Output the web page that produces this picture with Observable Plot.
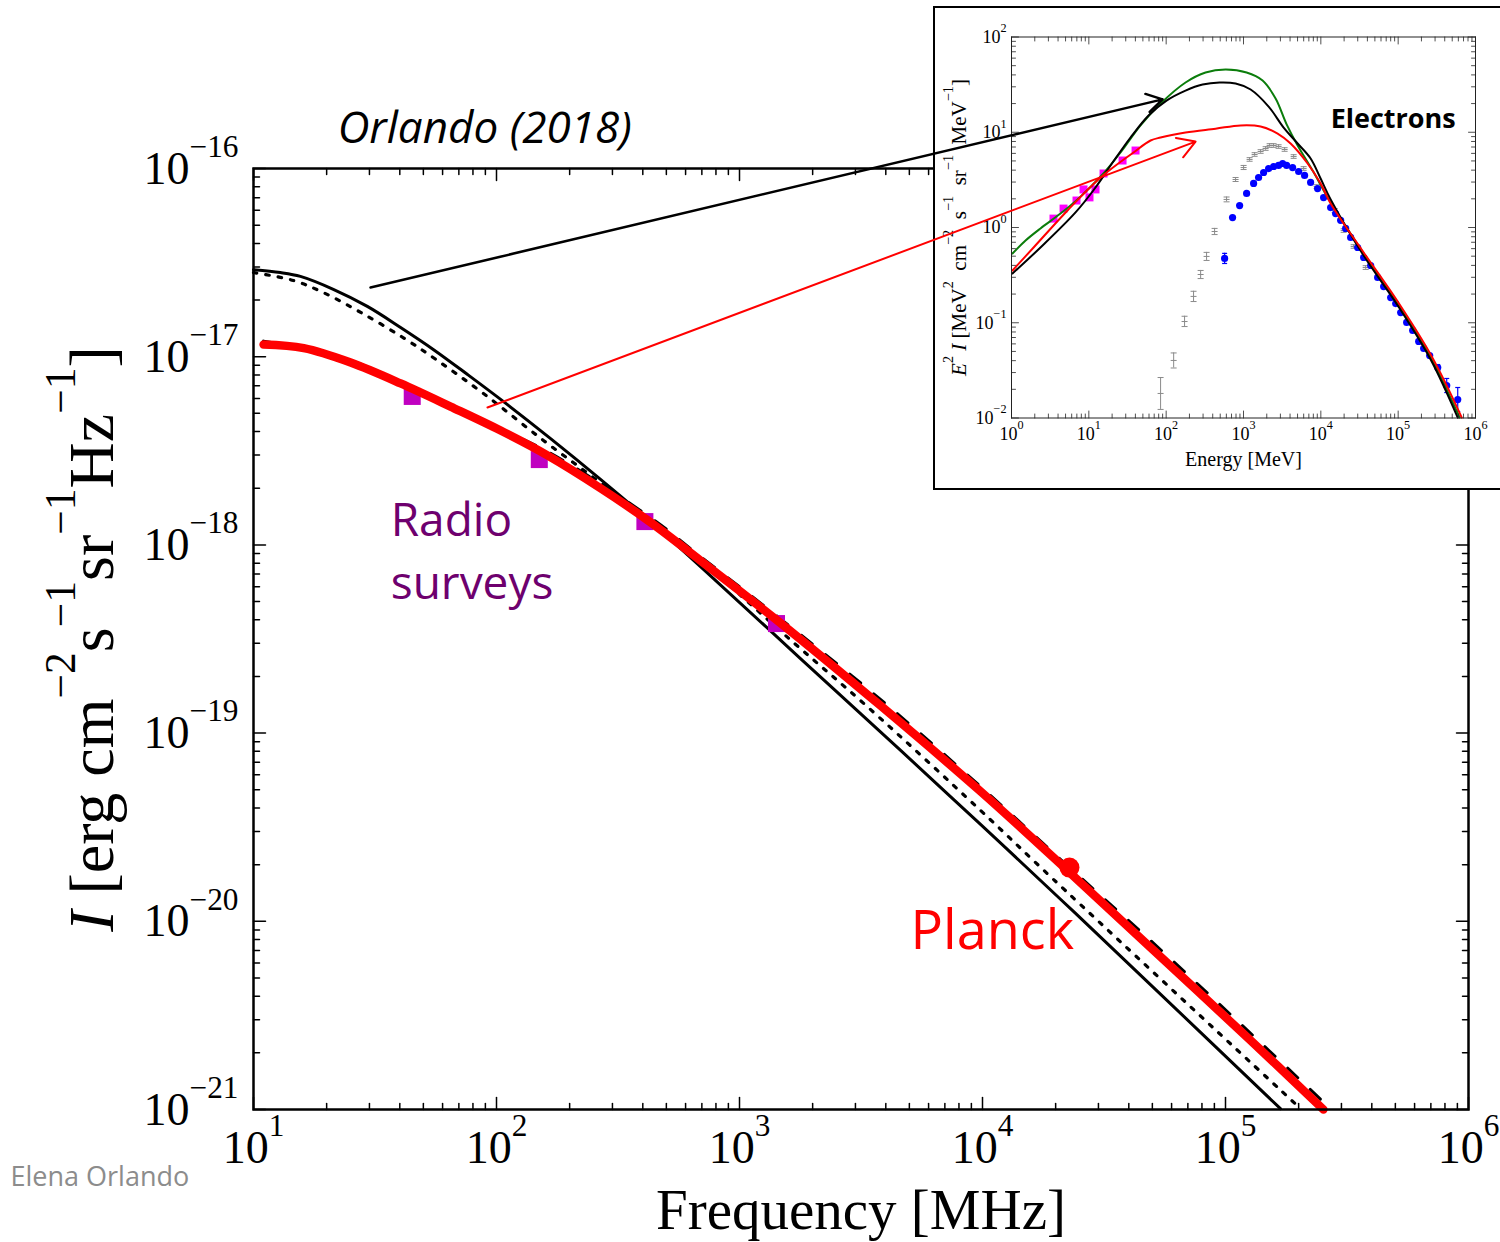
<!DOCTYPE html>
<html><head><meta charset="utf-8">
<script src="https://cdn.jsdelivr.net/npm/d3@7"></script>
<script src="https://cdn.jsdelivr.net/npm/@observablehq/plot@0.6"></script>
<style>
html,body{margin:0;padding:0;background:#fff;overflow:hidden;}
#wrap{position:relative;width:1500px;height:1242px;overflow:hidden;background:#fff;}
#wrap svg{position:absolute;left:0;top:0;}
#inset{position:absolute;left:933px;top:6px;width:570px;height:480px;border:2px solid #000;background:#fff;}
</style></head><body><div id="wrap"></div>
<script>
// ---------- Main panel: synchrotron intensity vs frequency ----------
const solidFreq = [10, 12.9, 15.6, 21.3, 29.4, 40.3, 55.1, 76.0, 104, 167, 268, 430, 691, 1782, 4603, 9817, 20940, 49100, 168300];
const solidI = [2.90e-17, 2.80e-17, 2.67e-17, 2.28e-17, 1.85e-17, 1.43e-17, 1.09e-17, 8.04e-18, 5.93e-18, 3.67e-18, 2.23e-18, 1.33e-18, 7.67e-19, 2.49e-19, 8.09e-20, 3.27e-20, 1.31e-20, 4.61e-21, 1.01e-21];
const dottedFreq = [10, 14.6, 19.4, 27.6, 41.4, 57.1, 88.4, 156, 260, 430, 691, 1667, 3362, 9817, 19590, 203700];
const dottedI = [2.80e-17, 2.54e-17, 2.19e-17, 1.72e-17, 1.26e-17, 9.55e-18, 6.37e-18, 3.59e-18, 2.20e-18, 1.32e-18, 8.26e-19, 3.03e-19, 1.38e-19, 3.88e-20, 1.67e-20, 1.01e-21];
const dashedFreq = [11.0, 25.1, 64.7, 162, 443, 691, 1433, 3802, 9817, 22800, 49100, 126800, 270400];
const dashedI = [1.21e-17, 9.55e-18, 5.37e-18, 3.13e-18, 1.36e-18, 8.67e-19, 4.17e-19, 1.51e-19, 5.20e-20, 1.93e-20, 7.91e-21, 2.54e-21, 1.01e-21];
const redFreq = [11.0, 16.1, 25.1, 40.3, 64.7, 104, 162, 268, 430, 691, 1433, 3802, 9817, 22800, 49100, 126800, 252900];
const redI = [1.16e-17, 1.11e-17, 9.31e-18, 7.21e-18, 5.43e-18, 4.05e-18, 2.99e-18, 2.00e-18, 1.32e-18, 8.26e-19, 3.96e-19, 1.40e-19, 4.90e-20, 1.82e-20, 7.26e-21, 2.33e-21, 1.0e-21];
const radioFreq = [45, 150, 408, 1420];
const radioI = [6.15e-18, 2.84e-18, 1.33e-18, 3.82e-19];
const planckFreq = [22800];
const planckI = [1.93e-20];
const mainMajorX = [1e1, 1e2, 1e3, 1e4, 1e5, 1e6];
const mainMajorY = [1e-21, 1e-20, 1e-19, 1e-18, 1e-17, 1e-16];

// ---------- Inset: electron spectra E^2 I vs energy ----------
const greenE = [1.03, 1.52, 2.37, 4.30, 7.81, 14.2, 25.7, 46.6, 84.6, 178, 323, 587, 1097, 1766, 2600, 3611, 5012, 7834, 13390, 35800, 98600, 263000, 625000];
const greenV = [0.533, 0.730, 0.977, 1.40, 2.11, 3.43, 6.13, 11.8, 20.0, 33.3, 42.4, 45.6, 42.4, 34.9, 22.6, 12.1, 7.26, 3.96, 1.83, 0.533, 0.159, 0.0432, 0.0101];
const blackE = [1.03, 2.37, 6.73, 12.2, 20.3, 34.6, 59.2, 101, 178, 296, 491, 791, 1236, 2113, 3305, 5012, 7379, 9931, 13390, 35800, 98600, 263000, 589000];
const blackV = [0.329, 0.617, 1.44, 2.63, 4.81, 8.81, 15.0, 21.5, 27.4, 31.7, 33.3, 32.5, 28.1, 18.6, 11.2, 7.62, 5.30, 3.27, 1.97, 0.508, 0.152, 0.0411, 0.0101];
const redE = [1.03, 1.93, 5.30, 14.2, 37.8, 62.8, 84.6, 178, 436, 918, 1665, 2763, 4066, 6745, 9931, 13390, 35800, 98600, 263000, 664000];
const redV = [0.354, 0.617, 1.51, 3.35, 6.13, 8.19, 8.81, 9.93, 10.9, 11.8, 11.5, 9.70, 7.62, 4.70, 2.90, 1.79, 0.547, 0.167, 0.0464, 0.0101];
const magentaE = [3.49, 4.71, 6.93, 8.54, 10.2, 12.2, 15.5, 27.3, 40.2];
const magentaV = [1.24, 1.58, 1.92, 2.51, 2.07, 2.51, 3.69, 5.05, 6.43];
const grayE = [84.7, 125, 173, 226, 279, 333, 423, 604, 790, 1003, 1199, 1393, 1665, 1932, 2177, 2451, 2844, 3404, 4450, 5995, 8832, 15100, 19730, 26570, 38000];
const grayV = [0.0181, 0.0402, 0.103, 0.189, 0.321, 0.497, 0.908, 1.97, 3.19, 4.26, 5.18, 5.84, 6.28, 6.75, 7.26, 7.26, 7.08, 6.59, 5.56, 4.16, 2.69, 1.51, 0.931, 0.632, 0.380];
const grayLo = [0.0123, 0.0335, 0.0912, 0.167, 0.291, 0.451, 0.843, 1.86, 3.04, 4.06, 4.96, 5.59, 6.01, 6.46, 6.95, 6.95, 6.78, 6.31, 5.32, 3.98, 2.57, 1.44, 0.89, 0.605, 0.363];
const grayHi = [0.0266, 0.0482, 0.117, 0.214, 0.354, 0.548, 0.978, 2.09, 3.35, 4.48, 5.41, 6.10, 6.56, 7.05, 7.58, 7.58, 7.39, 6.88, 5.81, 4.35, 2.81, 1.58, 0.97, 0.66, 0.397];
const blueE = [570, 722, 891, 1097, 1351, 1567, 1820, 2113, 2451, 2844, 3205, 3611, 4316, 5164, 6166, 7379, 9078, 10860, 13390, 15530, 18030, 20940, 24300, 29920, 35800, 44100, 54300, 64900, 80000, 92900, 107800, 128800, 154100, 184300, 213800, 255600, 324600, 424500, 589000];
const blueV = [0.473, 1.27, 1.70, 2.28, 2.90, 3.35, 3.78, 4.16, 4.37, 4.48, 4.70, 4.48, 4.26, 3.87, 3.52, 2.97, 2.56, 2.06, 1.62, 1.40, 1.19, 0.977, 0.786, 0.617, 0.484, 0.399, 0.299, 0.240, 0.184, 0.159, 0.128, 0.1007, 0.0830, 0.0636, 0.0537, 0.0453, 0.0339, 0.0219, 0.0156];
const blueErrE = [570, 324600, 424500, 589000];
const blueErrLo = [0.419, 0.0316, 0.0185, 0.0117];
const blueErrHi = [0.535, 0.0364, 0.0260, 0.0209];
const insetMajorX = [1e0, 1e1, 1e2, 1e3, 1e4, 1e5, 1e6];
const insetMajorY = [1e-2, 1e-1, 1e0, 1e1, 1e2];

// ---------- helpers ----------
const SERIF = "Liberation Serif, Times New Roman, serif";
const SANS = "Open Sans, Noto Sans, sans-serif";
const zip = (xs, ys) => xs.map((x, i) => ({x, y: ys[i]}));
const minorsOf = (majors) => majors.slice(0, -1).flatMap(m => [2,3,4,5,6,7,8,9].map(k => k * m));
const powLabel = d => "10^{" + String(Math.round(Math.log10(d))).replace("-", "\u2212") + "}";
const tickShape = {draw(ctx, l) { ctx.moveTo(0, 0); ctx.lineTo(0, -l); }};
const capSymbol = {draw(ctx, size) { const w = Math.sqrt(size / Math.PI); ctx.moveTo(-w, 0); ctx.lineTo(w, 0); }};

function frameTicks(xMaj, yMaj, o) {
  const xMin = minorsOf(xMaj), yMin = minorsOf(yMaj), marks = [];
  for (const [fa, rot] of [["bottom", 0], ["top", 180]]) {
    marks.push(Plot.vector(xMaj, {x: d => d, frameAnchor: fa, rotate: rot, length: o.maj, anchor: "start", shape: tickShape, stroke: o.stroke, strokeWidth: o.sw}));
    marks.push(Plot.vector(xMin, {x: d => d, frameAnchor: fa, rotate: rot, length: o.min, anchor: "start", shape: tickShape, stroke: o.stroke, strokeWidth: o.sw}));
  }
  for (const [fa, rot] of [["left", 90], ["right", -90]]) {
    marks.push(Plot.vector(yMaj, {y: d => d, frameAnchor: fa, rotate: rot, length: o.maj, anchor: "start", shape: tickShape, stroke: o.stroke, strokeWidth: o.sw}));
    marks.push(Plot.vector(yMin, {y: d => d, frameAnchor: fa, rotate: rot, length: o.min, anchor: "start", shape: tickShape, stroke: o.stroke, strokeWidth: o.sw}));
  }
  return marks;
}

// convert "^{..}" to superscripts and "*..*" to italics
function richText(root) {
  const ns = "http://www.w3.org/2000/svg";
  root.querySelectorAll("text").forEach(t => {
    const s = t.textContent;
    if (t.querySelector("tspan") || !/(\^\{|\*)/.test(s)) return;
    const fs = parseFloat(getComputedStyle(t).fontSize);
    const parts = s.split(/(\^\{[^}]*\}|\*[^*]+\*)/).filter(p => p);
    t.textContent = "";
    let up = false;
    for (const p of parts) {
      const ts = document.createElementNS(ns, "tspan");
      if (p.startsWith("^{")) {
        ts.textContent = p.slice(2, -1);
        ts.setAttribute("font-size", (fs * 0.68).toFixed(1));
        if (!up) ts.setAttribute("dy", (-fs * 0.58).toFixed(1));
        up = true;
      } else {
        if (p.startsWith("*")) { ts.textContent = p.slice(1, -1); ts.setAttribute("font-style", "italic"); }
        else ts.textContent = p;
        if (up) { ts.setAttribute("dy", (fs * 0.58).toFixed(1)); up = false; }
      }
      t.appendChild(ts);
    }
  });
}

// ---------- main plot ----------
const mainOpts = {
  width: 1500, height: 1242,
  marginLeft: 253, marginRight: 32, marginTop: 168, marginBottom: 133,
  x: {type: "log", domain: [10, 1e6], axis: null},
  y: {type: "log", domain: [1e-21, 1e-16], axis: null},
  style: {background: "transparent", overflow: "visible"}
};

const main = Plot.plot({
  ...mainOpts,
  marks: [
    Plot.line(zip(solidFreq, solidI), {x: "x", y: "y", stroke: "#000", strokeWidth: 3, curve: "catmull-rom"}),
    Plot.line(zip(dottedFreq, dottedI), {x: "x", y: "y", stroke: "#000", strokeWidth: 3.2, strokeDasharray: "3.5,9", curve: "catmull-rom"}),
    Plot.line(zip(dashedFreq, dashedI), {x: "x", y: "y", stroke: "#000", strokeWidth: 3, strokeDasharray: "14,17", curve: "catmull-rom"}),
    Plot.dot(zip(radioFreq, radioI), {x: "x", y: "y", symbol: "square", r: 9.6, fill: "#c000c0"}),
    Plot.line(zip(redFreq, redI), {x: "x", y: "y", stroke: "#ff0000", strokeWidth: 8.5, curve: "catmull-rom"}),
    Plot.dot(zip(planckFreq, planckI), {x: "x", y: "y", r: 10, fill: "#ff0000"}),
    Plot.frame({stroke: "#000", strokeWidth: 2.5}),
    ...frameTicks(mainMajorX, mainMajorY, {maj: 12, min: 6, sw: 1.5, stroke: "#000"}),
    Plot.text(mainMajorX, {x: d => d, frameAnchor: "bottom", dy: 53, lineAnchor: "bottom", textAnchor: "middle", text: powLabel, fontSize: 46, fontFamily: SERIF, fill: "#000"}),
    Plot.text(mainMajorY, {y: d => d, frameAnchor: "left", dx: -15, dy: 15, lineAnchor: "bottom", textAnchor: "end", text: powLabel, fontSize: 46, fontFamily: SERIF, fill: "#000"}),
    Plot.text(["Frequency [MHz]"], {text: d => d, frameAnchor: "bottom", dy: 119, lineAnchor: "bottom", textAnchor: "middle", fontSize: 57, fontFamily: SERIF, fill: "#000"}),
    Plot.text(["*I* [erg cm^{\u22122}s^{\u22121}sr^{\u22121}Hz^{\u22121}]"], {text: d => d, frameAnchor: "left", dx: -141, rotate: -90, lineAnchor: "bottom", textAnchor: "middle", fontSize: 64, fontFamily: SERIF, fill: "#000"}),
    Plot.text([{x: 22.2, y: 1.36e-16}], {x: "x", y: "y", text: () => "Orlando (2018)", textAnchor: "start", lineAnchor: "bottom", fontSize: 44, fontStyle: "italic", fontFamily: SANS, fill: "#000"}),
    Plot.text([{x: 36.7, y: 1.12e-18, t: "Radio"}, {x: 36.7, y: 5.19e-19, t: "surveys"}], {x: "x", y: "y", text: "t", textAnchor: "start", lineAnchor: "bottom", fontSize: 46, fontFamily: SANS, fill: "#6e006e"}),
    Plot.text([{x: 5058, y: 7.16e-21}], {x: "x", y: "y", text: () => "Planck", textAnchor: "start", lineAnchor: "bottom", fontSize: 54, fontFamily: SANS, fill: "#ff0000"}),
    Plot.text([{x: 1.0, y: 3.94e-22}], {x: "x", y: "y", text: () => "Elena Orlando", textAnchor: "start", lineAnchor: "bottom", fontSize: 27, fontFamily: SANS, fill: "#8c8c8c"})
  ]
});

// ---------- inset plot ----------
const gray = grayE.map((e, i) => ({x: e, y: grayV[i], lo: grayLo[i], hi: grayHi[i]}));
const blueErr = blueErrE.map((e, i) => ({x: e, lo: blueErrLo[i], hi: blueErrHi[i]}));
const inset = Plot.plot({
  width: 570, height: 480,
  marginLeft: 76, marginRight: 30, marginTop: 28.5, marginBottom: 70.5,
  x: {type: "log", domain: [1, 1e6], axis: null},
  y: {type: "log", domain: [1e-2, 1e2], axis: null},
  style: {background: "#fff", overflow: "visible"},
  marks: [
    Plot.ruleX(gray, {x: "x", y1: "lo", y2: "hi", stroke: "#8a8a8a", strokeWidth: 1}),
    Plot.dot(gray, {x: "x", y: "lo", symbol: capSymbol, r: 3, fill: "none", stroke: "#8a8a8a", strokeWidth: 1}),
    Plot.dot(gray, {x: "x", y: "hi", symbol: capSymbol, r: 3, fill: "none", stroke: "#8a8a8a", strokeWidth: 1}),
    Plot.dot(gray, {x: "x", y: "y", symbol: capSymbol, r: 3, fill: "none", stroke: "#8a8a8a", strokeWidth: 1}),
    Plot.ruleX(blueErr, {x: "x", y1: "lo", y2: "hi", stroke: "#0000ff", strokeWidth: 1.2}),
    Plot.dot(blueErr, {x: "x", y: "lo", symbol: capSymbol, r: 2.5, fill: "none", stroke: "#0000ff", strokeWidth: 1.2}),
    Plot.dot(blueErr, {x: "x", y: "hi", symbol: capSymbol, r: 2.5, fill: "none", stroke: "#0000ff", strokeWidth: 1.2}),
    Plot.dot(zip(blueE, blueV), {x: "x", y: "y", r: 3.6, fill: "#0000ff"}),
    Plot.dot(zip(magentaE, magentaV), {x: "x", y: "y", symbol: "square", r: 4.5, fill: "#ff00ff"}),
    Plot.line(zip(greenE, greenV), {x: "x", y: "y", stroke: "#0b7d0b", strokeWidth: 2, curve: "catmull-rom"}),
    Plot.line(zip(blackE, blackV), {x: "x", y: "y", stroke: "#000", strokeWidth: 2, curve: "catmull-rom"}),
    Plot.line(zip(redE, redV), {x: "x", y: "y", stroke: "#ff0000", strokeWidth: 2, curve: "catmull-rom"}),
    Plot.frame({stroke: "#222", strokeWidth: 1}),
    ...frameTicks(insetMajorX, insetMajorY, {maj: 7, min: 4, sw: 0.8, stroke: "#222"}),
    Plot.text(insetMajorX, {x: d => d, frameAnchor: "bottom", dy: 21.5, lineAnchor: "bottom", textAnchor: "middle", text: powLabel, fontSize: 18, fontFamily: SERIF, fill: "#000"}),
    Plot.text(insetMajorY, {y: d => d, frameAnchor: "left", dx: -5, lineAnchor: "middle", textAnchor: "end", text: powLabel, fontSize: 18, fontFamily: SERIF, fill: "#000"}),
    Plot.text(["Energy [MeV]"], {text: d => d, frameAnchor: "bottom", dy: 47.5, lineAnchor: "bottom", textAnchor: "middle", fontSize: 20, fontFamily: SERIF, fill: "#000"}),
    Plot.text(["*E*^{2} *I* [MeV^{2}  cm^{\u22122}  s^{\u22121}  sr^{\u22121}  MeV^{\u22121}]"], {text: d => d, frameAnchor: "left", dx: -46, rotate: -90, lineAnchor: "bottom", textAnchor: "middle", fontSize: 21, fontFamily: SERIF, fill: "#000"}),
    Plot.text([{x: 13390, y: 11.2}], {x: "x", y: "y", text: () => "Electrons", textAnchor: "start", lineAnchor: "bottom", fontSize: 27, fontWeight: "bold", fontFamily: SANS, fill: "#000"})
  ]
});

// ---------- arrows overlay (main-panel coordinates) ----------
const arrows = Plot.plot({
  ...mainOpts,
  marks: [
    Plot.arrow([{x1: 30.3, y1: 2.33e-17, x2: 55080, y2: 2.33e-16}], {x1: "x1", y1: "y1", x2: "x2", y2: "y2", stroke: "#000", strokeWidth: 2.5, headLength: 10.8, headAngle: 62}),
    Plot.arrow([{x1: 91.8, y1: 5.37e-18, x2: 75300, y2: 1.39e-16}], {x1: "x1", y1: "y1", x2: "x2", y2: "y2", stroke: "#ff0000", strokeWidth: 2, headLength: 15, headAngle: 62})
  ]
});
arrows.style.pointerEvents = "none";

const wrap = document.getElementById("wrap");
wrap.appendChild(main);
const insetDiv = document.createElement("div");
insetDiv.id = "inset";
insetDiv.appendChild(inset);
wrap.appendChild(insetDiv);
wrap.appendChild(arrows);
richText(main);
richText(inset);
</script></body></html>
